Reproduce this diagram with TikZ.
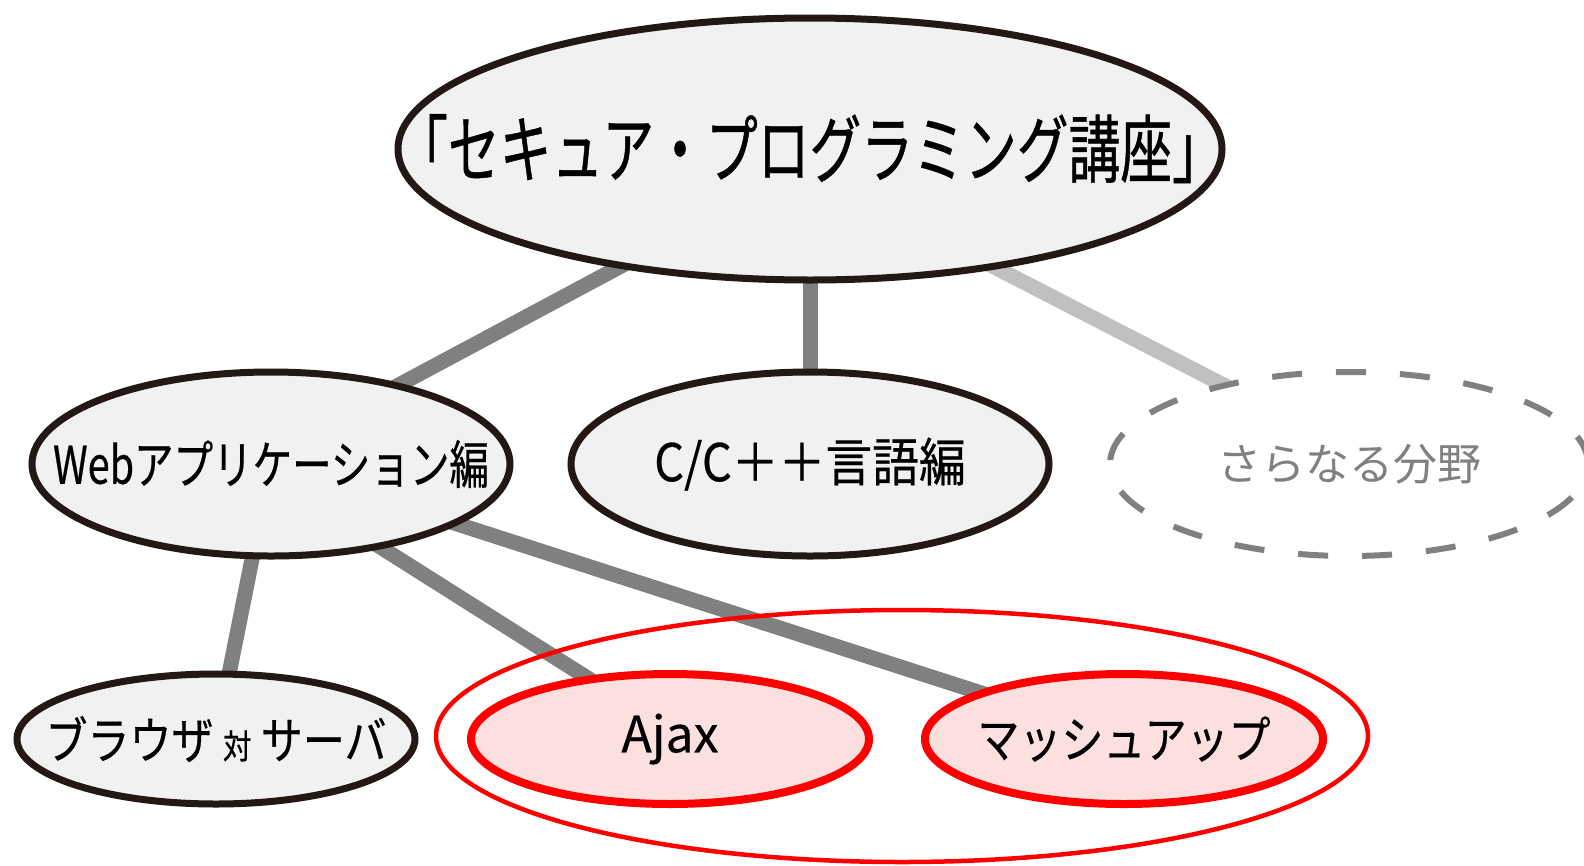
\documentclass[tikz,border=0pt]{standalone}
\usepackage{fontspec}
\setmainfont{Noto Sans CJK JP}
\newfontfamily\jpA[FakeStretch=0.70,FakeBold=0.6]{Noto Sans CJK JP}
\newfontfamily\jpB[FakeStretch=0.76,FakeBold=0.4]{Noto Sans CJK JP}
\newfontfamily\jpD[FakeStretch=0.84,FakeBold=0.4]{Noto Sans CJK JP}
\newfontfamily\jpE[FakeStretch=0.9,FakeBold=0.4]{Noto Sans CJK JP}
\newfontfamily\jpF[FakeBold=0.4]{Noto Sans CJK JP}
\newfontfamily\jpC{Noto Sans CJK JP}
\usetikzlibrary{backgrounds,shapes.geometric}
\definecolor{inkblack}{HTML}{231815}
\definecolor{nodefill}{HTML}{F1F1F1}
\definecolor{pinkfill}{HTML}{FCDFDF}
\definecolor{linegray}{HTML}{808080}
\definecolor{lightline}{HTML}{C0C0C0}
\definecolor{brightred}{HTML}{FF0000}
\newcommand{\ctext}[1]{\makebox[0pt][c]{#1}}
\tikzset{
  topnode/.style={ellipse, draw=inkblack, line width=7pt, fill=nodefill, minimum width=824pt, minimum height=262pt, inner sep=0pt, font=\jpA\fontsize{74}{74}\selectfont},
  midnode/.style={ellipse, draw=inkblack, line width=7pt, fill=nodefill, minimum width=478pt, minimum height=184pt, inner sep=0pt, font=\jpB\fontsize{52}{52}\selectfont},
  morenode/.style={ellipse, draw=linegray, line width=6pt, dash pattern=on 30pt off 34pt, fill=white, minimum width=478pt, minimum height=184pt, inner sep=0pt, text=linegray, font=\jpC\fontsize{44}{44}\selectfont},
  lownode/.style={ellipse, draw=inkblack, line width=7pt, fill=nodefill, minimum width=398pt, minimum height=130pt, inner sep=0pt, font=\jpD\fontsize{50}{50}\selectfont},
  rednode/.style={ellipse, draw=brightred, line width=8pt, fill=pinkfill, minimum width=398pt, minimum height=130pt, inner sep=0pt, font=\jpD\fontsize{50}{50}\selectfont},
  groupnode/.style={ellipse, draw=brightred, line width=4.5pt, minimum width=932pt, minimum height=252pt, inner sep=0pt},
  link/.style={draw=linegray, line width=15pt},
  lightlink/.style={draw=lightline, line width=15pt},
}
\begin{document}
\begin{tikzpicture}[x=1pt,y=-1pt]
\useasboundingbox (0,0) rectangle (1584,865);
\node[groupnode] (grp) at (902,736) {};
\node[topnode] (top) at (810,149) {\ctext{\raisebox{7pt}{「セキュア・プログラミング講座」}}};
\node[midnode] (web) at (271,464) {\ctext{Webアプリケーション編}};
\node[midnode] (cpp) at (810,464) {\ctext{\jpE C/C＋＋言語編}};
\node[morenode] (more) at (1349,464) {\ctext{さらなる分野}};
\node[lownode] (bvs) at (216,739) {\ctext{ブラウザ {\fontsize{34}{34}\selectfont 対} サーバ}};
\node[rednode] (ajax) at (670,739) {\ctext{\jpF Ajax}};
\node[rednode] (mash) at (1124,739) {\ctext{マッシュアップ}};
\begin{pgfonlayer}{background}
\draw[link] ([xshift=30pt]top.center) -- ([xshift=-20pt]web.center);
\draw[link] (top.center) -- (cpp.center);
\draw[lightlink] ([xshift=-45pt]top.center) -- ([xshift=28pt]more.center);
\draw[link] (web.center) -- (bvs.center);
\draw[link] ([xshift=-22pt]web.center) -- ([xshift=14pt]ajax.center);
\draw[link] (web.center) -- (mash.center);
\end{pgfonlayer}
\end{tikzpicture}
\end{document}
